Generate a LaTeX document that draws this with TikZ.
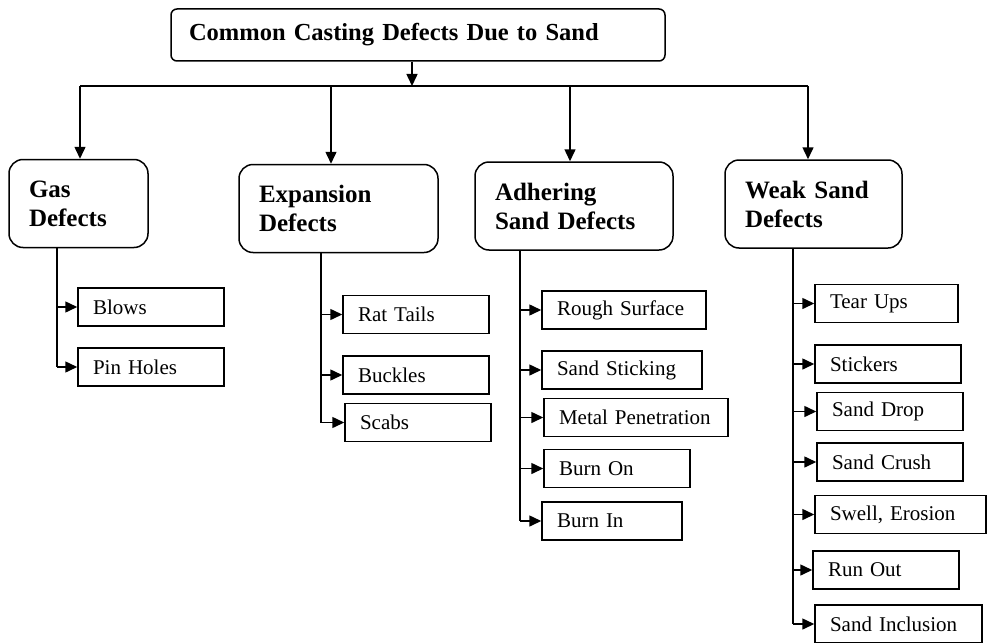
\documentclass[tikz,border=0pt]{standalone}
\usepackage{fontspec}
\setmainfont{Liberation Serif}
\usetikzlibrary{arrows.meta}
\tikzset{
    titlebox/.style={draw,rounded corners=3pt,inner xsep=9pt,minimum height=26pt,align=left,font=\fontsize{12.25}{14.5}\selectfont\bfseries},
    catbox/.style={draw,rounded corners=7pt,inner xsep=10pt,minimum height=44pt,align=left,font=\fontsize{12.5}{14.5}\selectfont\bfseries},
    itembox/.style={draw,inner xsep=7.5pt,inner ysep=0pt,minimum height=19pt,align=left,font=\fontsize{10.5}{12}\selectfont},
    feed/.style={-{Triangle[length=6pt,width=5.5pt]}}
}
\begin{document}
\begin{tikzpicture}[x=0.5pt,y=-0.5pt,line width=0.75pt]
        \useasboundingbox (0,0) rectangle (988,642);
        \clip (0,0) rectangle (988,642);

        \node [titlebox,text width=229pt](title)at(418,35){Common Casting Defects Due to Sand};

        \node [catbox,text width=49.5pt](gas)at(78.5,203.5){Gas\\Defects};
        \node [catbox,text width=79.5pt](expansion)at(338.5,208.5){Expansion\\Defects};
        \node [catbox,text width=79pt](adhering)at(574,206){Adhering\\Sand Defects};
        \node [catbox,text width=68.5pt](weak)at(813.5,204){Weak Sand\\Defects};

        \node [itembox,text width=58pt](blows)at(151,307){Blows};
        \node [itembox,text width=58pt](pinholes)at(151,367){Pin Holes};

        \node [itembox,text width=58pt](rattails)at(416,314.5){Rat Tails};
        \node [itembox,text width=58pt](buckles)at(416,375){Buckles};
        \node [itembox,text width=58pt](scabs)at(418,422.5){Scabs};

        \node [itembox,text width=67pt](rough)at(624,310){Rough Surface};
        \node [itembox,text width=65pt](sticking)at(622,370){Sand Sticking};
        \node [itembox,text width=77pt](penetration)at(636,417.5){Metal Penetration};
        \node [itembox,text width=58pt](burnon)at(617,468.5){Burn On};
        \node [itembox,text width=55pt](burnin)at(612,521){Burn In};

        \node [itembox,text width=56.5pt](tearups)at(886.5,303.5){Tear Ups};
        \node [itembox,text width=58pt](stickers)at(888,364){Stickers};
        \node [itembox,text width=58pt](sanddrop)at(890,411.5){Sand Drop};
        \node [itembox,text width=58pt](sandcrush)at(890,462){Sand Crush};
        \node [itembox,text width=70.5pt](swell)at(900.5,514.5){Swell, Erosion};
        \node [itembox,text width=58pt](runout)at(886,570){Run Out};
        \node [itembox,text width=68.5pt](inclusion)at(898.5,624){Sand Inclusion};

        \coordinate (hub) at (412,86);
        \coordinate (t1) at (80,86);
        \coordinate (t2) at (331,86);
        \coordinate (t3) at (570,86);
        \coordinate (t4) at (808,86);
        \coordinate (s1) at (57,0);
        \coordinate (s2) at (321,0);
        \coordinate (s3) at (520,0);
        \coordinate (s4) at (793,0);

        \draw [feed] (title.south -| hub) -- (hub);
        \draw (t1) -- (t4);
        \draw [feed] (t1) -- (t1 |- gas.north);
        \draw [feed] (t2) -- (t2 |- expansion.north);
        \draw [feed] (t3) -- (t3 |- adhering.north);
        \draw [feed] (t4) -- (t4 |- weak.north);

        \draw (s1 |- gas.south) -- (s1 |- pinholes.west);
        \draw [feed] (s1 |- blows.west) -- (blows.west);
        \draw [feed] (s1 |- pinholes.west) -- (pinholes.west);

        \draw (s2 |- expansion.south) -- (s2 |- scabs.west);
        \draw [feed] (s2 |- rattails.west) -- (rattails.west);
        \draw [feed] (s2 |- buckles.west) -- (buckles.west);
        \draw [feed] (s2 |- scabs.west) -- (scabs.west);

        \draw (s3 |- adhering.south) -- (s3 |- burnin.west);
        \draw [feed] (s3 |- rough.west) -- (rough.west);
        \draw [feed] (s3 |- sticking.west) -- (sticking.west);
        \draw [feed] (s3 |- penetration.west) -- (penetration.west);
        \draw [feed] (s3 |- burnon.west) -- (burnon.west);
        \draw [feed] (s3 |- burnin.west) -- (burnin.west);

        \draw (s4 |- weak.south) -- (s4 |- inclusion.west);
        \draw [feed] (s4 |- tearups.west) -- (tearups.west);
        \draw [feed] (s4 |- stickers.west) -- (stickers.west);
        \draw [feed] (s4 |- sanddrop.west) -- (sanddrop.west);
        \draw [feed] (s4 |- sandcrush.west) -- (sandcrush.west);
        \draw [feed] (s4 |- swell.west) -- (swell.west);
        \draw [feed] (s4 |- runout.west) -- (runout.west);
        \draw [feed] (s4 |- inclusion.west) -- (inclusion.west);
\end{tikzpicture}
\end{document}
